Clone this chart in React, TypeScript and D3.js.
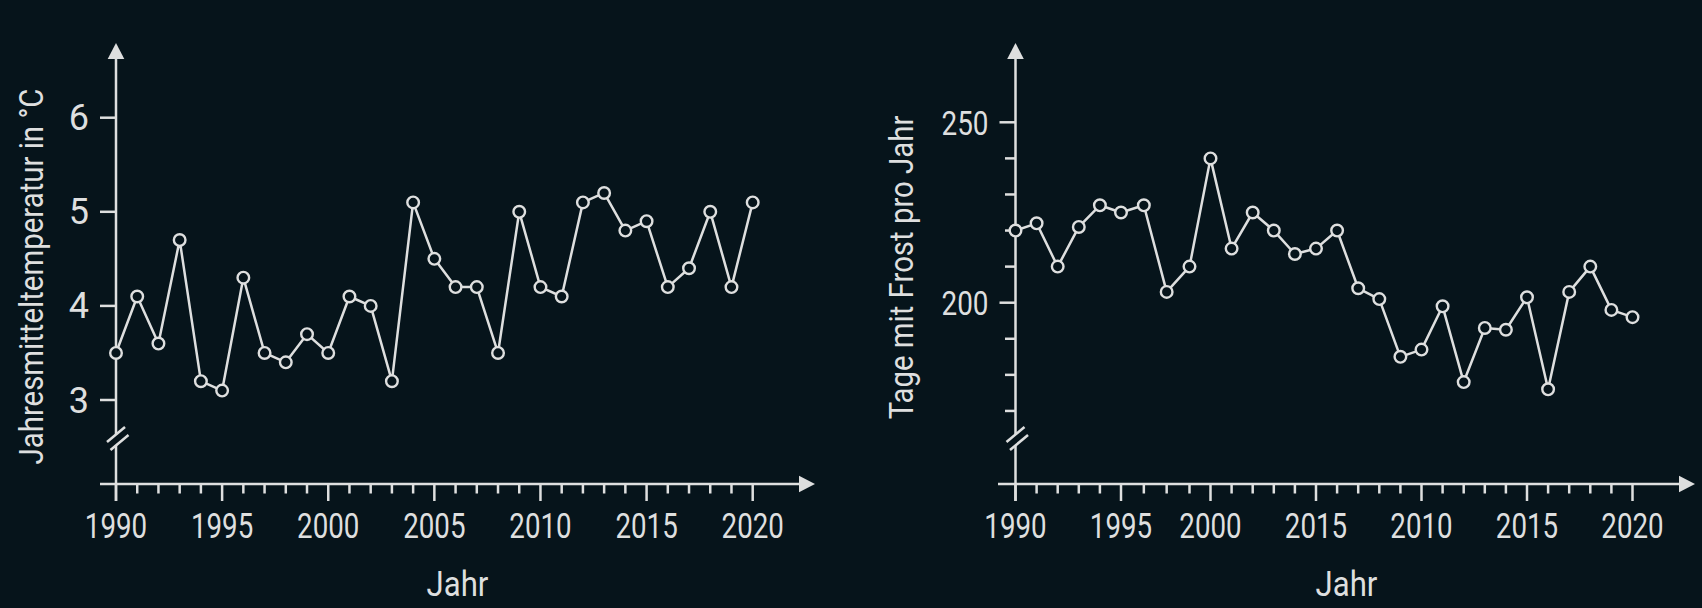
import React from "react";
import * as d3 from "d3";

// ---------- data ----------
const tempYears = [1990, 1991, 1992, 1993, 1994, 1995, 1996, 1997, 1998, 1999, 2000, 2001, 2002, 2003, 2004, 2005, 2006, 2007, 2008, 2009, 2010, 2011, 2012, 2013, 2014, 2015, 2016, 2017, 2018, 2019, 2020];
const tempValues = [3.5, 4.1, 3.6, 4.7, 3.2, 3.1, 4.3, 3.5, 3.4, 3.7, 3.5, 4.1, 4.0, 3.2, 5.1, 4.5, 4.2, 4.2, 3.5, 5.0, 4.2, 4.1, 5.1, 5.2, 4.8, 4.9, 4.2, 4.4, 5.0, 4.2, 5.1];
const tempYTicks = [3, 4, 5, 6];
const tempXTickYears = [1990, 1995, 2000, 2005, 2010, 2015, 2020];
const tempXTickLabels = ["1990", "1995", "2000", "2005", "2010", "2015", "2020"];

const frostYears = [1990, 1991, 1992, 1993, 1994, 1995, 1996, 1997, 1998, 2000, 2001, 2002, 2003, 2004, 2005, 2006, 2007, 2008, 2009, 2010, 2011, 2012, 2013, 2014, 2015, 2016, 2017, 2018, 2019, 2020];
const frostValues = [220, 222, 210, 221, 227, 225, 227, 203, 210, 240, 215, 225, 220, 213.5, 215, 220, 204, 201, 185, 187, 199, 178, 193, 192.5, 201.5, 176, 203, 210, 198, 196];
const frostYTicks = [170, 180, 190, 200, 210, 220, 230, 240, 250];
const frostYLabelTicks = [200, 250];
const frostXTickYears = [1990, 1995, 2000, 2005, 2010, 2015, 2020];
const frostXTickLabels = ["1990", "1995", "2000", "2015", "2010", "2015", "2020"];

const tempTitle = "Jahresmitteltemperatur in °C";
const frostTitle = "Tage mit Frost pro Jahr";
const xTitle = "Jahr";

// ---------- style ----------
const BG = "#06141b";
const FG = "#dedfdf";
const FONT = "Roboto, 'Noto Sans', sans-serif";

type PanelProps = {
  years: number[];
  values: number[];
  x: d3.ScaleLinear<number, number>;
  y: d3.ScaleLinear<number, number>;
  yAxisX: number;
  xAxisY: number;
  xStart: number;
  xEnd: number;
  yTop: number;
  yTicks: number[];
  yLabelTicks: number[];
  yLabelScale: number;
  xTickYears: number[];
  xTickLabels: string[];
  title: string;
  titleX: number;
  titleY: number;
  titleSize: number;
  titleScale: number;
  yLabelSize: number;
  breakY: number;
};

function Panel(p: PanelProps) {
  const line = d3
    .line<number>()
    .x((_, i) => p.x(p.years[i]))
    .y((v) => p.y(v));
  const arrow = 16;
  const half = 8.3;
  const majorLen = 17;
  const minorLen = 9.5;
  const sw = 2.5;
  const bx = p.yAxisX;
  const by = p.breakY;
  return (
    <g>
      {/* x axis */}
      <line x1={p.xStart} x2={p.xEnd - arrow + 1} y1={p.xAxisY} y2={p.xAxisY} stroke={FG} strokeWidth={sw} />
      <path d={`M${p.xEnd},${p.xAxisY} L${p.xEnd - arrow},${p.xAxisY - half} L${p.xEnd - arrow},${p.xAxisY + half} Z`} fill={FG} />
      {/* y axis */}
      <line x1={bx} x2={bx} y1={p.xAxisY + majorLen} y2={by + 7} stroke={FG} strokeWidth={sw} />
      <line x1={bx} x2={bx} y1={by - 3} y2={p.yTop + arrow - 1} stroke={FG} strokeWidth={sw} />
      <path d={`M${bx},${p.yTop} L${bx - half},${p.yTop + arrow} L${bx + half},${p.yTop + arrow} Z`} fill={FG} />
      {/* axis break */}
      <line x1={bx - 9} y1={by + 4} x2={bx + 9} y2={by - 11} stroke={FG} strokeWidth={sw} />
      <line x1={bx - 5.5} y1={by + 12} x2={bx + 12.5} y2={by - 3} stroke={FG} strokeWidth={sw} />
      {/* x ticks */}
      {p.years.map((yr) => {
        const major = p.xTickYears.includes(yr);
        return (
          <line key={"xt" + yr} x1={p.x(yr)} x2={p.x(yr)} y1={p.xAxisY} y2={p.xAxisY + (major ? majorLen : minorLen)} stroke={FG} strokeWidth={sw} />
        );
      })}
      {p.xTickYears.map((yr, i) => (
        <text
          key={"xl" + i}
          transform={`translate(${p.x(yr)},${p.xAxisY + 54}) scale(0.77,1)`}
          textAnchor="middle"
          fontSize={36}
          fill={FG}
          fontFamily={FONT}
        >
          {p.xTickLabels[i]}
        </text>
      ))}
      <text
        transform={`translate(${(p.xStart + p.xEnd) / 2},${p.xAxisY + 112}) scale(0.89,1)`}
        textAnchor="middle"
        fontSize={35}
        fill={FG}
        fontFamily={FONT}
      >
        {xTitle}
      </text>
      {/* y ticks */}
      {p.yTicks.map((t) => {
        const major = p.yLabelTicks.includes(t);
        return (
          <line key={"yt" + t} x1={bx - (major ? 16 : 10.5)} x2={bx} y1={p.y(t)} y2={p.y(t)} stroke={FG} strokeWidth={sw} />
        );
      })}
      {p.yLabelTicks.map((t) => (
        <text
          key={"yl" + t}
          transform={`translate(${bx - 27},${p.y(t) + 12.5}) scale(${p.yLabelScale},1)`}
          textAnchor="end"
          fontSize={p.yLabelSize}
          fill={FG}
          fontFamily={FONT}
        >
          {t}
        </text>
      ))}
      <text
        transform={`translate(${p.titleX},${p.titleY}) rotate(-90) scale(${p.titleScale},1)`}
        textAnchor="middle"
        fontSize={p.titleSize}
        fill={FG}
        fontFamily={FONT}
      >
        {p.title}
      </text>
      {/* data */}
      <path d={line(p.values) || ""} fill="none" stroke={FG} strokeWidth={2.5} strokeLinejoin="round" />
      {p.values.map((v, i) => (
        <circle key={"c" + i} cx={p.x(p.years[i])} cy={p.y(v)} r={5.8} fill={BG} stroke={FG} strokeWidth={2.4} />
      ))}
    </g>
  );
}

export default function App() {
  const W = 1702;
  const H = 608;

  const tempX = d3.scaleLinear().domain([1990, 2020]).range([116, 752.7]);
  const tempY = d3.scaleLinear().domain([3, 6]).range([400, 117.7]);

  const frostX = d3
    .scaleLinear()
    .domain([1990, 1995, 1998, 2000, 2020])
    .range([1015.5, 1121, 1189.5, 1210.5, 1632.5]);
  const frostY = d3.scaleLinear().domain([200, 250]).range([302.7, 122.3]);

  return (
    <svg
      width={W}
      height={H}
      viewBox={`0 0 ${W} ${H}`}
      style={{ position: "absolute", left: 0, top: 0, display: "block" }}
    >
      <rect x={0} y={0} width={W} height={H} fill={BG} />
      <Panel
        years={tempYears}
        values={tempValues}
        x={tempX}
        y={tempY}
        yAxisX={116}
        xAxisY={484}
        xStart={100}
        xEnd={815}
        yTop={43}
        yTicks={tempYTicks}
        yLabelTicks={tempYTicks}
        yLabelScale={1}
        yLabelSize={36}
        xTickYears={tempXTickYears}
        xTickLabels={tempXTickLabels}
        title={tempTitle}
        titleX={43}
        titleY={276.5}
        titleSize={34}
        titleScale={0.865}
        breakY={438}
      />
      <Panel
        years={frostYears}
        values={frostValues}
        x={frostX}
        y={frostY}
        yAxisX={1015.5}
        xAxisY={484}
        xStart={998}
        xEnd={1695}
        yTop={43}
        yTicks={frostYTicks}
        yLabelTicks={frostYLabelTicks}
        yLabelScale={0.82}
        yLabelSize={34}
        xTickYears={frostXTickYears}
        xTickLabels={frostXTickLabels}
        title={frostTitle}
        titleX={913}
        titleY={267.5}
        titleSize={33}
        titleScale={0.89}
        breakY={438}
      />
    </svg>
  );
}
